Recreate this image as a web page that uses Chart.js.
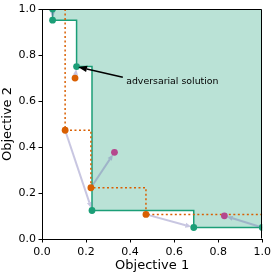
<!DOCTYPE html>
<html>
<head>
<meta charset="utf-8">
<script src="https://cdn.jsdelivr.net/npm/chart.js@4/dist/chart.umd.min.js"></script>
<style>
html,body{margin:0;padding:0;background:#fff;}
canvas{display:block;}
</style>
</head>
<body>
<canvas id="c" width="274" height="274"></canvas>
<script>
// ---- data ----
const greenFrontX = [0.048, 0.048, 0.157, 0.227, 0.689, 1.0];
const greenFrontY = [1.0, 0.952, 0.75, 0.124, 0.05, 0.05];
const orangeFrontX = [0.105, 0.105, 0.222, 0.472, 1.0];
const orangeFrontY = [1.0, 0.473, 0.223, 0.107, 0.107];
const greenX = [0.048, 0.048, 0.157, 0.227, 0.689, 1.0];
const greenY = [1.0, 0.952, 0.75, 0.124, 0.05, 0.05];
const orangeX = [0.15, 0.105, 0.222, 0.472];
const orangeY = [0.70, 0.473, 0.223, 0.107];
const purpleX = [0.329, 0.828];
const purpleY = [0.377, 0.101];
const arrowFromX = [0.048, 0.15, 0.105, 0.222, 0.472, 1.0];
const arrowFromY = [1.0, 0.70, 0.473, 0.223, 0.107, 0.05];
const arrowToX = [0.048, 0.157, 0.227, 0.329, 0.689, 0.828];
const arrowToY = [0.952, 0.75, 0.124, 0.377, 0.05, 0.101];
const tickValues = [0, 0.2, 0.4, 0.6, 0.8, 1.0];
const annotText = "adversarial solution";
const annotTextX = 0.382, annotTextY = 0.683;
const annotTailX = 0.367, annotTailY = 0.704;
const annotTipX = 0.157, annotTipY = 0.75;
const xTitle = "Objective 1";
const yTitle = "Objective 2";

const GREEN = '#1b9e77', ORANGE = '#d95f02', PURPLE = '#b5478d';
const FONT = "'DejaVu Sans', sans-serif";

const pts = (xs, ys) => xs.map((x, i) => ({x: x, y: ys[i]}));

function drawArrow(ctx, x1, y1, x2, y2, shrinkEnd, headLen, headW, color, lw) {
  const dx = x2 - x1, dy = y2 - y1;
  const len = Math.hypot(dx, dy);
  if (len < 1e-6) return;
  const ux = dx / len, uy = dy / len;
  const tx = x2 - ux * shrinkEnd, ty = y2 - uy * shrinkEnd;
  const bx = tx - ux * headLen, by = ty - uy * headLen;
  ctx.save();
  ctx.strokeStyle = color; ctx.fillStyle = color; ctx.lineWidth = lw;
  ctx.beginPath(); ctx.moveTo(x1, y1); ctx.lineTo(bx, by); ctx.stroke();
  ctx.beginPath();
  ctx.moveTo(tx, ty);
  ctx.lineTo(bx - uy * headW / 2, by + ux * headW / 2);
  ctx.lineTo(bx + uy * headW / 2, by - ux * headW / 2);
  ctx.closePath(); ctx.fill();
  ctx.restore();
}

const arrowsPlugin = {
  id: 'arrows',
  afterDatasetDraw(chart, args) {
    if (args.index !== 1) return;
    const ctx = chart.ctx, xs = chart.scales.x, ys = chart.scales.y;
    const a = chart.chartArea;
    ctx.save();
    ctx.beginPath(); ctx.rect(a.left, a.top, a.right - a.left, a.bottom - a.top); ctx.clip();
    for (let i = 0; i < arrowFromX.length; i++) {
      drawArrow(ctx,
        xs.getPixelForValue(arrowFromX[i]), ys.getPixelForValue(arrowFromY[i]),
        xs.getPixelForValue(arrowToX[i]), ys.getPixelForValue(arrowToY[i]),
        2.5, 6, 5, 'rgba(117,112,179,0.4)', 2);
    }
    ctx.restore();
  },
  afterDatasetsDraw(chart) {
    const ctx = chart.ctx, xs = chart.scales.x, ys = chart.scales.y;
    drawArrow(ctx,
      xs.getPixelForValue(annotTailX), ys.getPixelForValue(annotTailY),
      xs.getPixelForValue(annotTipX), ys.getPixelForValue(annotTipY),
      1.5, 9, 6.5, '#000', 1.5);
    ctx.save();
    ctx.fillStyle = '#000';
    ctx.font = "9.4px " + FONT;
    ctx.textAlign = 'left'; ctx.textBaseline = 'middle';
    ctx.fillText(annotText, xs.getPixelForValue(annotTextX), ys.getPixelForValue(annotTextY));
    ctx.restore();
  },
  afterDraw(chart) {
    const a = chart.chartArea, ctx = chart.ctx;
    ctx.save();
    ctx.strokeStyle = '#000'; ctx.lineWidth = 1;
    ctx.beginPath();
    ctx.moveTo(Math.round(a.left) + 0.5, Math.round(a.top) + 0.5);
    ctx.lineTo(Math.round(a.right) - 0.5, Math.round(a.top) + 0.5);
    ctx.lineTo(Math.round(a.right) - 0.5, Math.round(a.bottom) - 0.5);
    ctx.stroke();
    ctx.restore();
  }
};

const axisCommon = {
  type: 'linear', min: 0, max: 1,
  afterBuildTicks(scale) { scale.ticks = tickValues.map(v => ({value: v})); },
  ticks: { color: '#000', font: {family: FONT, size: 11}, callback: v => v.toFixed(1) },
  grid: { drawOnChartArea: false, drawTicks: true, tickLength: 3.5, tickColor: '#000', tickWidth: 1 },
  border: { display: true, color: '#000', width: 1 }
};

new Chart(document.getElementById('c'), {
  type: 'scatter',
  data: {
    datasets: [
      { type: 'line', data: pts(greenFrontX, greenFrontY), stepped: true, fill: 'end',
        backgroundColor: 'rgba(27,158,119,0.3)', borderColor: GREEN, borderWidth: 1.5,
        pointRadius: 0, order: 6 },
      { type: 'line', data: pts(orangeFrontX, orangeFrontY), stepped: true, fill: false,
        borderColor: ORANGE, borderWidth: 1.5, borderDash: [2, 2.5], borderCapStyle: 'butt',
        pointRadius: 0, order: 5 },
      { data: pts(purpleX, purpleY), backgroundColor: PURPLE, borderWidth: 0, pointRadius: 3.4, order: 3 },
      { data: pts(orangeX, orangeY), backgroundColor: ORANGE, borderWidth: 0, pointRadius: 3.4, order: 2 },
      { data: pts(greenX, greenY), backgroundColor: GREEN, borderWidth: 0, pointRadius: 3.4, order: 1, clip: 0 }
    ]
  },
  options: {
    responsive: false, animation: false, devicePixelRatio: 1,
    layout: { padding: { top: 4.5, right: 10, left: 0, bottom: 0 } },
    plugins: { legend: { display: false }, tooltip: { enabled: false } },
    scales: {
      x: Object.assign({}, axisCommon, {
        position: 'bottom',
        ticks: Object.assign({}, axisCommon.ticks, { padding: 3, maxRotation: 0 }),
        title: { display: true, text: xTitle, color: '#000', font: {family: FONT, size: 13}, padding: {top: 0, bottom: 1} },
        afterFit(scale) { scale.height = 35; }
      }),
      y: Object.assign({}, axisCommon, {
        position: 'left',
        ticks: Object.assign({}, axisCommon.ticks, { padding: 2.5 }),
        title: { display: true, text: yTitle, color: '#000', font: {family: FONT, size: 13}, padding: {top: 0, bottom: 0} },
        afterFit(scale) { scale.width = 42; }
      })
    }
  },
  plugins: [arrowsPlugin]
});
</script>
</body>
</html>
